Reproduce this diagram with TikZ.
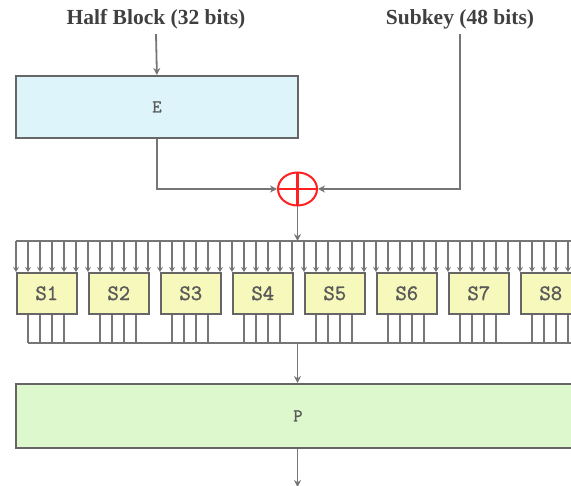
\documentclass[tikz,border=0pt]{standalone}
\usepackage{fontspec}
\setmainfont{Liberation Serif}
\newfontfamily\lblfont{Latin Modern Mono}[FakeBold=1.5]
\usetikzlibrary{arrows.meta,calc,shapes.geometric}
\definecolor{linegray}{HTML}{767676}
\definecolor{boxedge}{HTML}{666666}
\definecolor{txtgray}{HTML}{404040}
\definecolor{lblgray}{HTML}{5A5A5A}
\definecolor{efill}{HTML}{DDF4FA}
\definecolor{sfill}{HTML}{F6F8BC}
\definecolor{pfill}{HTML}{DCF8CC}
\definecolor{xorred}{HTML}{FF2020}
\tikzset{
  title/.style={font=\bfseries\fontsize{21.5}{26}\selectfont, text=txtgray, inner sep=2pt},
  bigbox/.style={draw=boxedge, line width=1.8pt, anchor=north west, inner sep=0pt,
    font=\lblfont\fontsize{18}{20}\selectfont, text=lblgray},
  sbox/.style={draw=boxedge, fill=sfill, line width=1.6pt, anchor=north west, inner sep=0pt,
    minimum width=60pt, minimum height=41pt,
    font=\lblfont\fontsize{22}{24}\selectfont, text=lblgray},
  arr/.style={draw=linegray, line width=1.8pt, -{Stealth[length=7pt,width=7pt]}},
  wire/.style={draw=linegray, line width=1.4pt},
  warr/.style={wire, -{Stealth[length=5pt,width=6pt]}},
  xorc/.style={ellipse, draw=xorred, line width=2pt, minimum width=39pt, minimum height=33pt, inner sep=0pt},
  xorline/.style={draw=xorred, line width=2.2pt},
}
\begin{document}
\begin{tikzpicture}[x=1pt,y=-1pt]
\useasboundingbox (0,0) rectangle (571,486);
\begin{scope}
\clip (0,0) rectangle (571,486);
% titles
\node[title] (hb) at (156,19) {Half Block (32 bits)};
\node[title] (sk) at (460,19) {Subkey (48 bits)};
% E box
\node[bigbox, fill=efill, minimum width=282pt, minimum height=62pt] (E) at (15,75) {E};
% XOR
\node[xorc] (xr) at (297.5,189) {};
\draw[xorline] ($(xr.center)+(0,-16.5)$) -- ($(xr.center)+(0,16.5)$);
\draw[xorline] ($(xr.center)+(-19.5,0)$) -- ($(xr.center)+(19.5,0)$);
% input arrows
\draw[arr] ([yshift=-3pt]hb.south) -- (E.north);
\draw[arr] (E.south) |- (xr.west);
\draw[arr] ([yshift=-3pt]sk.south) |- (xr.east);
% top bus
\coordinate (tb0) at (16,241);
\coordinate (tb1) at (600,241);
\coordinate (tin) at (297.5,241);
\draw[arr] (xr.south) -- (tin);
\draw[wire] (tb0) -- (tb1);
% bottom bus
\coordinate (bb0) at (28,343);
\coordinate (bb1) at (600,343);
\draw[wire] (bb0) -- (bb1);
% S-boxes
\foreach \k in {1,...,8}{
  \node[sbox] (s\k) at ({16+72*(\k-1)},272) {S\k};
  \foreach \j in {0,...,5}{
    \path (s\k.north west) ++(\j*12,0) coordinate (w);
    \draw[warr] (w |- tb0) -- (w);
  }
  \foreach \j in {1,...,4}{
    \path (s\k.south west) ++(\j*12,0) coordinate (o);
    \draw[wire] (o) -- (o |- bb0);
  }
}
% P box
\node[bigbox, fill=pfill, minimum width=564pt, minimum height=64pt] (P) at (15,383) {P};
\coordinate (pin) at (297.5,343);
\coordinate (pout) at (297.5,487);
\draw[arr] (pin) -- (pin |- P.north);
\draw[arr] (pin |- P.south) -- (pout);
\end{scope}
\end{tikzpicture}
\end{document}
